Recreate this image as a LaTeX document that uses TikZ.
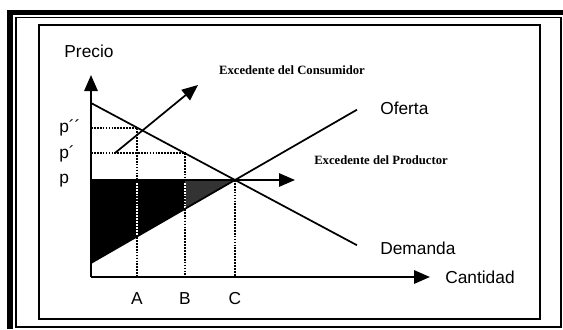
\documentclass[tikz,border=0pt]{standalone}
\usepackage{fontspec}
\setmainfont{Liberation Serif}
\setsansfont{Liberation Sans}
\usetikzlibrary{arrows.meta,calc}
\begin{document}
\begin{tikzpicture}[x=0.75pt,y=-0.75pt,
  axis/.style={line width=1.5pt,-{Triangle[length=12pt,width=10pt]}},
  curve/.style={line width=1.3pt},
  guide/.style={line width=1.4pt,dash pattern=on 1.3pt off 0.9pt},
  lab/.style={font=\sffamily\fontsize{13}{15}\selectfont,inner sep=0pt},
  note/.style={font=\rmfamily\bfseries\fontsize{9.5}{11}\selectfont,inner sep=0pt},
  pointer/.style={line width=1.3pt,-{Triangle[length=12pt,width=10pt]}}]
\useasboundingbox (0,0) rectangle (563,329);
% frame
\fill[black] (7,10) rectangle (563,14.5);
\fill[black] (7,10) rectangle (13,329);
\draw[line width=0.8pt] (16,17.5) rectangle (561,327);
\draw[line width=1.1pt] (39,25) rectangle (540,319);
% key points
\coordinate (O) at (91,277);
\coordinate (Ytip) at (91,75);
\coordinate (Xtip) at (430,277);
\coordinate (D0) at (91,103);
\coordinate (S0) at (91,263);
\coordinate (I) at (235,180);
\coordinate (D1) at ($(D0)!1.847!(I)$);
\coordinate (S1) at ($(S0)!1.847!(I)$);
\coordinate (Pp) at (91,180);
\coordinate (PA) at (137,127.6);
\coordinate (PB) at (185,153.3);
\coordinate (SA) at (137,236.5);
\coordinate (SB) at (185,208.8);
\coordinate (A0) at (137,277);
\coordinate (B0) at (185,277);
\coordinate (C0) at (235,277);
\coordinate (Ptip) at (295,180);
\coordinate (CSs) at (115,153);
\coordinate (CSe) at (198,85);
% producer surplus
\fill[black] (Pp) -- (I) -- (S0) -- cycle;
\fill[black!80] (185,180) -- (I) -- (SB) -- cycle;
% guide lines
\draw[guide] (Pp |- PA) -- (PA) -- (A0);
\draw[guide] (Pp |- PB) -- (PB) -- (B0);
\draw[guide] (I) -- (C0);
\draw[guide,white,line width=0.8pt] (137,183) -- (SA);
\draw[guide,white,line width=0.8pt] (185,183) -- (SB);
% curves
\draw[curve] (D0) -- (D1);
\draw[curve] (S0) -- (S1);
\draw[pointer] (Pp) -- (Ptip);
\draw[pointer] (CSs) -- (CSe);
% axes
\draw[axis] (O) -- (Ytip);
\draw[axis] (O) -- (Xtip);
% labels
\node[lab] (precio) at (89,51) {Precio};
\node[lab,anchor=west] (cantidad) at (445,277) {Cantidad};
\node[lab,anchor=west] (oferta) at (380,108) {Oferta};
\node[lab,anchor=west] (demanda) at (380,248) {Demanda};
\node[lab,anchor=base west] (p2) at (59,132) {p´´};
\node[lab,anchor=base west] (p1) at (59,158) {p´};
\node[lab,anchor=base west] (p0) at (59,183) {p};
\node[lab] (la) at (137,299) {A};
\node[lab] (lb) at (185,299) {B};
\node[lab] (lc) at (235,299) {C};
\node[note] (ec) at (292,70) {Excedente del Consumidor};
\node[note] (ep) at (381,160) {Excedente del Productor};
\end{tikzpicture}
\end{document}
